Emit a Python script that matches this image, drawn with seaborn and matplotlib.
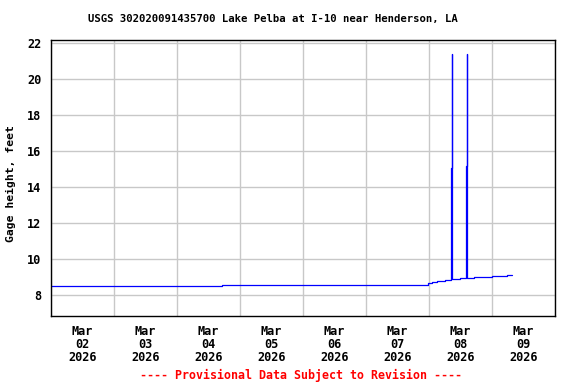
import numpy as np
import pandas as pd
import matplotlib
matplotlib.use("Agg")
import matplotlib.pyplot as plt
import seaborn as sns

# ---- data ----
times = [
    "2026-03-02 00:00", "2026-03-02 07:30", "2026-03-02 08:15", "2026-03-02 14:45",
    "2026-03-02 15:00", "2026-03-04 06:30", "2026-03-04 06:45", "2026-03-04 13:45",
    "2026-03-04 14:30", "2026-03-04 15:30", "2026-03-04 16:15", "2026-03-04 17:00",
    "2026-03-07 17:00", "2026-03-07 17:45", "2026-03-07 19:00", "2026-03-07 19:30",
    "2026-03-07 20:30", "2026-03-07 21:00", "2026-03-07 22:00", "2026-03-07 22:30",
    "2026-03-07 23:30", "2026-03-08 01:00", "2026-03-08 03:00", "2026-03-08 06:00",
    "2026-03-08 08:30", "2026-03-08 08:45", "2026-03-08 08:50", "2026-03-08 11:45",
    "2026-03-08 14:15", "2026-03-08 14:30", "2026-03-08 14:35", "2026-03-08 17:00",
    "2026-03-09 00:00", "2026-03-09 05:45", "2026-03-09 07:30",
]
gage_height = [
    8.50, np.nan, 8.50, 8.47,
    8.50, 8.52, 8.50, 8.52,
    8.49, 8.52, 8.49, 8.54,
    8.57, 8.54, 8.57, 8.54,
    8.57, 8.54, 8.57, 8.54,
    8.65, 8.70, 8.76, 8.82,
    15.05, 21.39, 8.86, 8.93,
    15.18, 21.39, 8.93, 8.98,
    9.04, 9.09, 9.09,
]
day_ticks = ["2026-03-02", "2026-03-03", "2026-03-04", "2026-03-05",
             "2026-03-06", "2026-03-07", "2026-03-08", "2026-03-09"]
day_labels = ["Mar\n02\n2026", "Mar\n03\n2026", "Mar\n04\n2026", "Mar\n05\n2026",
              "Mar\n06\n2026", "Mar\n07\n2026", "Mar\n08\n2026", "Mar\n09\n2026"]
y_ticks = [8, 10, 12, 14, 16, 18, 20, 22]

title = "USGS 302020091435700 Lake Pelba at I-10 near Henderson, LA"
ylabel = "Gage height, feet"
footer = "---- Provisional Data Subject to Revision ----"

df = pd.DataFrame({"time": pd.to_datetime(times), "value": gage_height})

sns.set_theme(style="white")
plt.rcParams["font.family"] = ["DejaVu Sans Mono"]
plt.rcParams["font.weight"] = "bold"

fig = plt.figure(figsize=(5.76, 3.84), dpi=100)
ax = fig.add_axes([51 / 576, 1 - 316 / 384, 504 / 576, 276 / 384])

sns.lineplot(data=df, x="time", y="value", ax=ax, estimator=None, sort=False,
             color="#0000ff", linewidth=0.9, drawstyle="steps-post")

start = pd.Timestamp("2026-03-02 00:00")
end = pd.Timestamp("2026-03-10 00:00")
ax.set_xlim(start, end)
ax.set_ylim(6.83, 22.17)

# gridlines at midnight, labels centered at noon
midnights = pd.date_range(start, end, freq="D")
ax.set_xticks(midnights)
ax.set_xticklabels([])
noons = pd.to_datetime(day_ticks) + pd.Timedelta(hours=12)
ax.set_xticks(noons, minor=True)
ax.set_xticklabels(day_labels, minor=True, fontsize=8.6, fontweight="bold",
                   linespacing=0.98)
ax.set_yticks(y_ticks)
ax.set_yticklabels([str(v) for v in y_ticks], fontsize=8.6, fontweight="bold")

ax.tick_params(axis="both", which="both", length=0, colors="black")
ax.tick_params(axis="x", which="minor", pad=6.5)
ax.tick_params(axis="y", pad=7)
ax.grid(True, which="major", color="#c8c8c8", linewidth=1.0)
ax.grid(False, which="minor")
ax.set_axisbelow(True)
for s in ax.spines.values():
    s.set_color("black")
    s.set_linewidth(1.0)
    s.set_visible(True)

ax.set_xlabel("")
ax.set_ylabel("")

fig.text(273 / 576, 1 - 19 / 384, title, ha="center", va="center",
         fontsize=7.7, fontweight="bold", color="black")
fig.text(11 / 576, 1 - 184 / 384, ylabel, ha="center", va="center",
         rotation=90, fontsize=8.2, fontweight="bold", color="black")
fig.text(301.5 / 576, 1 - 375 / 384, footer, ha="center", va="center",
         fontsize=8.4, fontweight="bold", color="#ff0000")

fig.savefig("out.png", dpi=100)
